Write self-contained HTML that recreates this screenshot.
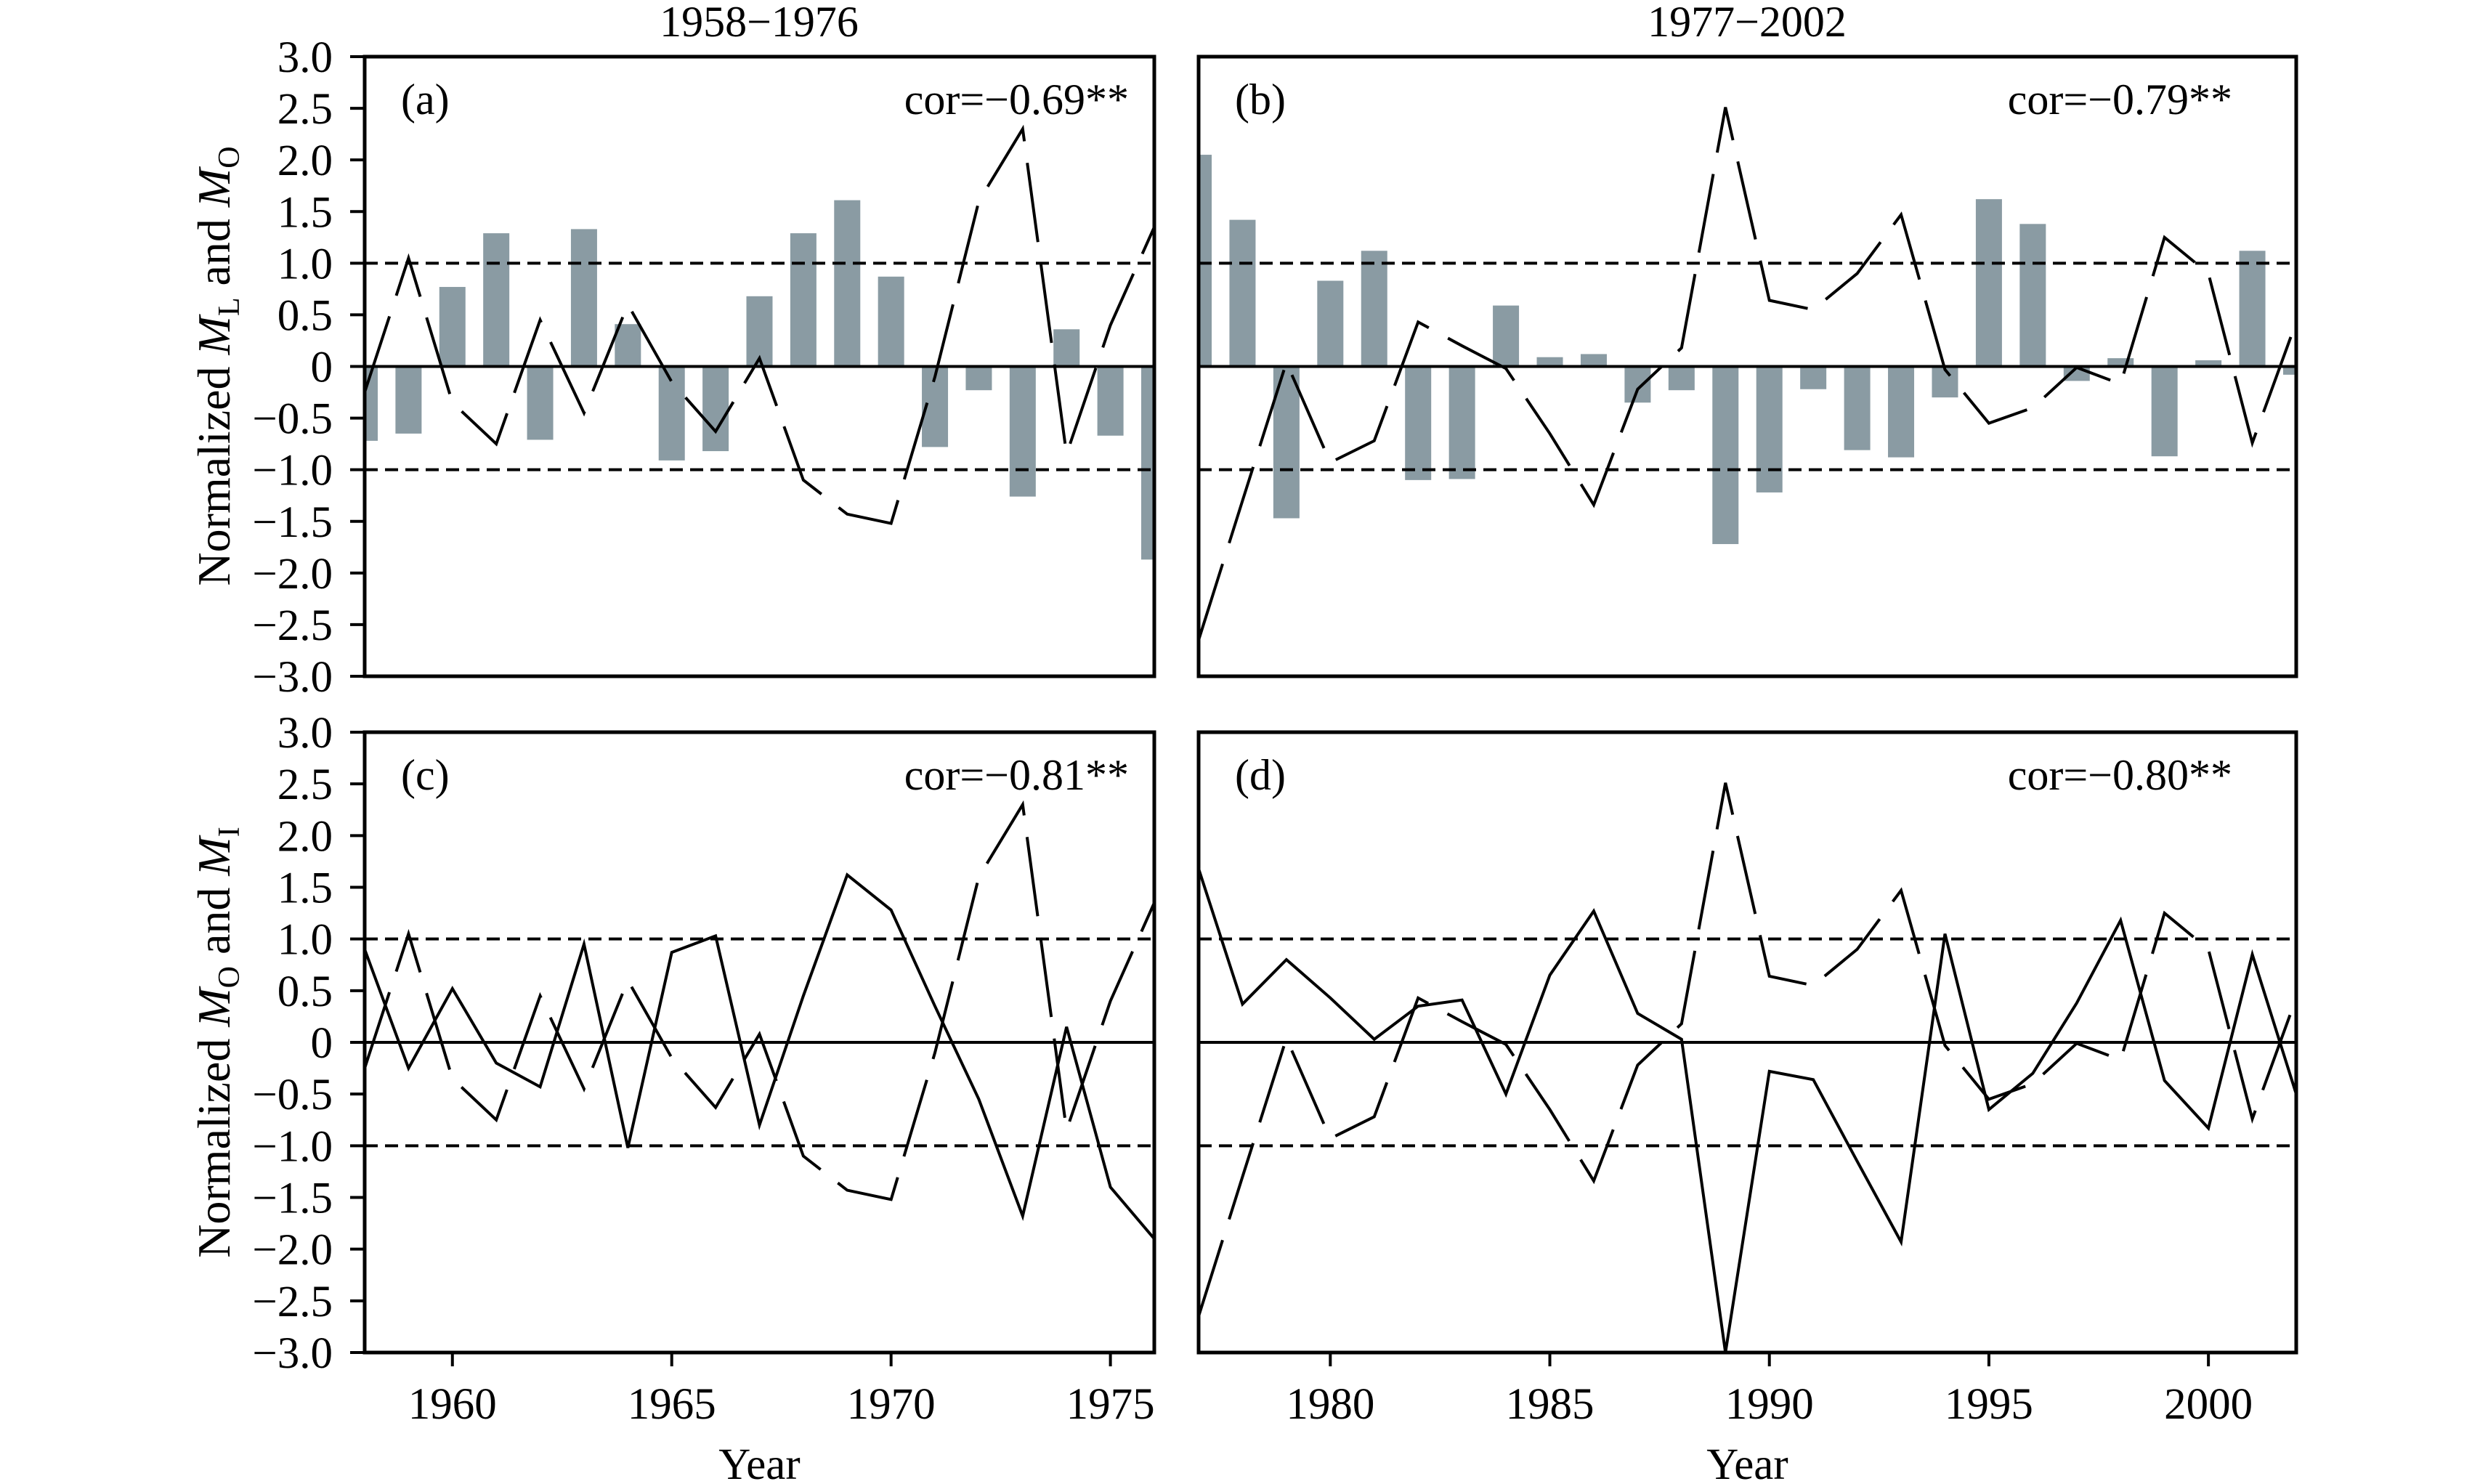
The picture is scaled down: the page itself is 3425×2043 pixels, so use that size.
<!DOCTYPE html>
<html><head><meta charset="utf-8"><style>
html,body{margin:0;padding:0;background:#fff;}
svg{display:block;font-family:"Liberation Serif",serif;}
</style></head><body>
<svg id="chart" width="3425" height="2043" viewBox="0 0 3425 2043" xmlns="http://www.w3.org/2000/svg"></svg>
<script>
const yearsA = [1958,1959,1960,1961,1962,1963,1964,1965,1966,1967,1968,1969,1970,1971,1972,1973,1974,1975,1976];
const yearsB = [1977,1978,1979,1980,1981,1982,1983,1984,1985,1986,1987,1988,1989,1990,1991,1992,1993,1994,1995,1996,1997,1998,1999,2000,2001,2002];
const mlA = [-0.72,-0.65,0.77,1.29,-0.71,1.33,0.41,-0.91,-0.82,0.68,1.29,1.61,0.87,-0.78,-0.23,-1.26,0.36,-0.67,-1.87];
const moA = [-0.25,1.05,-0.35,-0.75,0.45,-0.45,0.6,-0.15,-0.63,0.08,-1.1,-1.43,-1.52,-0.1,1.6,2.3,-0.85,0.4,1.35];
const miA = [0.9,-0.25,0.52,-0.2,-0.43,0.95,-1.02,0.87,1.03,-0.8,0.45,1.62,1.28,0.35,-0.55,-1.68,0.15,-1.4,-1.9];
const mlB = [2.05,1.42,-1.47,0.83,1.12,-1.1,-1.09,0.59,0.09,0.12,-0.35,-0.23,-1.72,-1.22,-0.22,-0.81,-0.88,-0.3,1.62,1.38,-0.14,0.08,-0.87,0.06,1.12,-0.08];
const moB = [-2.65,-1.3,0.04,-0.93,-0.72,0.43,0.2,-0.02,-0.65,-1.34,-0.22,0.18,2.51,0.64,0.55,0.9,1.47,-0.03,-0.55,-0.4,-0.01,-0.17,1.25,0.9,-0.74,0.43];
const miB = [1.68,0.37,0.8,0.43,0.03,0.35,0.41,-0.5,0.65,1.27,0.28,0.03,-3.0,-0.28,-0.36,-1.15,-1.93,1.05,-0.65,-0.3,0.38,1.18,-0.37,-0.83,0.85,-0.5];
const yTicks = [3.0,2.5,2.0,1.5,1.0,0.5,0,-0.5,-1.0,-1.5,-2.0,-2.5,-3.0];
const xTicksA = [1960,1965,1970,1975];
const xTicksB = [1980,1985,1990,1995,2000];
const corLabels = ["cor=\u22120.69**","cor=\u22120.79**","cor=\u22120.81**","cor=\u22120.80**"];

const NS="http://www.w3.org/2000/svg";
const svg=document.getElementById('chart');
function mk(tag,attrs,parent){const e=document.createElementNS(NS,tag);for(const k in attrs)e.setAttribute(k,attrs[k]);(parent||svg).appendChild(e);return e;}
function fmt(v){if(v===0)return "0";return (v<0?"\u2212":"")+Math.abs(v).toFixed(1);}

const panels=[
 {id:'a',x0:502,x1:1589,y0:78,y1:931,yr0:1958,yr1:1976,years:yearsA,bars:mlA,dash:moA,solid:null,cor:corLabels[0],ticks:null,left:true},
 {id:'b',x0:1650,x1:3161,y0:78,y1:931,yr0:1977,yr1:2002,years:yearsB,bars:mlB,dash:moB,solid:null,cor:corLabels[1],ticks:null,left:false},
 {id:'c',x0:502,x1:1589,y0:1008,y1:1862,yr0:1958,yr1:1976,years:yearsA,bars:null,dash:moA,solid:miA,cor:corLabels[2],ticks:xTicksA,left:true},
 {id:'d',x0:1650,x1:3161,y0:1008,y1:1862,yr0:1977,yr1:2002,years:yearsB,bars:null,dash:moB,solid:miB,cor:corLabels[3],ticks:xTicksB,left:false}
];

panels.forEach(p=>{
 const g=mk('g',{});
 
 
 const xs=yr=>p.x0+(yr-p.yr0)/(p.yr1-p.yr0)*(p.x1-p.x0);
 const ys=v=>p.y0+(3-v)/6*(p.y1-p.y0);
 const clipId='clip'+p.id;
 const cp=mk('clipPath',{id:clipId},g);
 mk('rect',{x:p.x0,y:p.y0,width:p.x1-p.x0,height:p.y1-p.y0},cp);
 const inner=mk('g',{'clip-path':'url(#'+clipId+')'},g);
 if(p.bars){
  p.bars.forEach((v,i)=>{
   const r=mk('rect',{x:xs(p.years[i])-18,y:Math.min(ys(v),ys(0)),width:36,height:Math.abs(ys(v)-ys(0)),fill:'#8a9ba3'},inner);
   
   
  });
 }
 [1,-1].forEach(v=>{
  const l=mk('line',{x1:p.x0,x2:p.x1,y1:ys(v),y2:ys(v),stroke:'#000','stroke-width':4,'stroke-dasharray':'18 10'},inner);
  
  
 });
 const z=mk('line',{x1:p.x0,x2:p.x1,y1:ys(0),y2:ys(0),stroke:'#000','stroke-width':4},inner);
 
 
 const dpts=p.dash.map((v,i)=>xs(p.years[i])+','+ys(v)).join(' ');
 const dl=mk('polyline',{points:dpts,fill:'none',stroke:'#000','stroke-width':4,'stroke-dasharray':'110 30'},inner);
 
 
 if(p.solid){
  const spts=p.solid.map((v,i)=>xs(p.years[i])+','+ys(v)).join(' ');
  const sl=mk('polyline',{points:spts,fill:'none',stroke:'#000','stroke-width':4},inner);
  
  
 }
 const fr=mk('rect',{x:p.x0,y:p.y0,width:p.x1-p.x0,height:p.y1-p.y0,fill:'none',stroke:'#000','stroke-width':5},g);
 
 
 const pl=mk('text',{x:p.x0+50,y:p.y0+79,'font-size':60},g);
 pl.textContent='('+p.id+')';
 
 
 const ct=mk('text',{x:p.id==='a'||p.id==='c'?1554:3073,y:p.y0+79,'font-size':60,'text-anchor':'end'},g);
 ct.textContent=p.cor;
 
 
 if(p.left){
  yTicks.forEach(v=>{
   const tk=mk('line',{x1:p.x0-20,x2:p.x0,y1:ys(v),y2:ys(v),stroke:'#000','stroke-width':4},g);
   
   
   const t=mk('text',{x:458,y:ys(v)+21,'font-size':61,'text-anchor':'end'},g);
   t.textContent=fmt(v);
   
   
  });
 }
 if(p.ticks){
  p.ticks.forEach(yr=>{
   const tk=mk('line',{x1:xs(yr),x2:xs(yr),y1:p.y1,y2:p.y1+19,stroke:'#000','stroke-width':4},g);
   
   
   const t=mk('text',{x:xs(yr),y:1953,'font-size':61,'text-anchor':'middle'},g);
   t.textContent=yr;
   
   
  });
  const xl=mk('text',{x:(p.x0+p.x1)/2,y:2036,'font-size':61,'text-anchor':'middle'},g);
  xl.textContent='Year';
  
  
 }
});
</script>
<div style="position:absolute;left:0;top:0;width:3425px;height:2043px;pointer-events:none;">
<svg width="3425" height="2043" style="position:absolute;left:0;top:0;font-family:'Liberation Serif',serif;">
 <text x="1045" y="50" font-size="60" text-anchor="middle">1958−1976</text>
 <text x="2405" y="50" font-size="60" text-anchor="middle">1977−2002</text>
 <text transform="translate(316,504) rotate(-90)" font-size="64" text-anchor="middle">Normalized <tspan font-style="italic">M</tspan><tspan font-size="42" dy="13">L</tspan><tspan dy="-13"> and </tspan><tspan font-style="italic">M</tspan><tspan font-size="42" dy="13">O</tspan></text>
 <text transform="translate(316,1435) rotate(-90)" font-size="64" text-anchor="middle">Normalized <tspan font-style="italic">M</tspan><tspan font-size="42" dy="13">O</tspan><tspan dy="-13"> and </tspan><tspan font-style="italic">M</tspan><tspan font-size="42" dy="13">I</tspan></text>
</svg>
</div>
</body></html>
